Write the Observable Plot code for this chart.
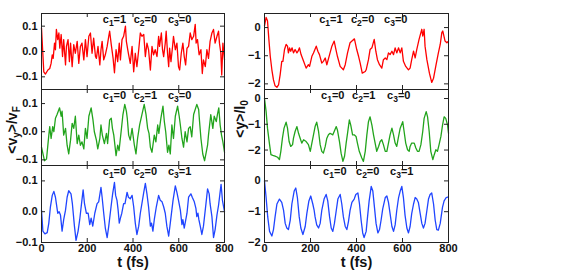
<!DOCTYPE html>
<html><head><meta charset="utf-8">
<script src="https://cdn.jsdelivr.net/npm/d3@7"></script>
<script src="https://cdn.jsdelivr.net/npm/@observablehq/plot@0.6"></script>
<style>
body{margin:0;background:#fff;}
#wrap{position:relative;width:572px;height:273px;overflow:hidden;font-family:"Liberation Sans",Arial,sans-serif;}
#wrap svg{position:absolute;}
</style></head><body><div id="wrap"></div>
<script>
// ---- data: left column <v_y>/v_F ----
const tRedL=[0,10,17,28,36,42,47,51,57,61,65,71,76,80,86,92,97,105,109,116,122,127,134,141,148,156,163,170,177,185,192,199,207,214,221,228,236,240,247,255,260,265,272,279,287,294,298,305,313,319,326,333,340,345,352,359,367,371,377,381,388,396,403,410,417,425,432,439,447,454,461,468,476,483,490,497,505,512,516,524,529,534,541,545,551,556,560,566,573,577,585,592,599,604,611,618,624,630,636,643,650,657,665,672,676,682,689,697,703,708,716,723,730,737,745,752,759,767,774,778,784,788,793,800];
const vRedL=[0.093,-0.080,-0.089,-0.073,-0.067,-0.047,-0.013,-0.027,0.033,0.007,0.087,0.047,0.073,0.013,0.067,-0.020,0.047,-0.053,0.020,0.047,-0.040,0.033,-0.060,0.027,-0.007,0.040,-0.047,0.020,0.033,-0.033,0.047,-0.020,0.060,0.073,-0.007,0.053,-0.020,-0.027,0.020,-0.053,0.007,0.040,-0.033,-0.013,0.020,0.060,0.080,0.027,-0.027,-0.084,0.007,-0.040,0.033,-0.033,0.047,0.060,0.100,0.040,0.007,-0.013,-0.047,0.020,-0.080,-0.007,-0.060,0.007,0.073,0.060,0.067,-0.020,0.033,0.007,-0.073,0.020,-0.013,0.007,-0.020,0.060,0.020,0.073,0.007,-0.020,0.033,0.080,-0.007,-0.060,0.013,-0.040,0.020,0.060,0.007,0.033,-0.060,-0.073,-0.007,0.033,-0.020,-0.053,0.013,0.020,0.073,0.047,0.060,0.107,0.033,0.047,-0.013,0.007,-0.087,-0.033,-0.060,0.007,-0.027,0.040,0.073,0.087,0.033,0.060,0.080,0.033,-0.007,-0.093,0.033,-0.033];

const tGreenL=[0,13,22,32,36,42,49,54,61,68,79,86,90,97,105,112,119,127,134,141,148,156,163,170,177,185,192,199,207,217,225,231,240,246,255,260,266,275,284,289,298,305,310,316,326,333,339,348,356,364,371,375,381,388,396,400,406,413,420,429,439,449,457,464,470,476,483,493,500,508,513,522,531,537,543,551,557,563,570,577,585,595,602,607,614,621,628,636,643,650,657,665,679,687,691,697,705,713,720,726,730,740,749,755,764,769,775,781,787,793,800];
const vGreenL=[-0.055,-0.103,-0.097,-0.012,0.018,-0.024,0.018,0.000,0.048,0.061,0.085,0.055,0.073,-0.012,0.012,-0.048,-0.079,-0.030,0.030,0.012,0.055,-0.042,-0.012,-0.048,-0.036,-0.061,0.012,-0.024,0.055,0.085,0.042,0.000,-0.030,-0.061,-0.024,0.024,-0.012,-0.042,-0.006,-0.042,0.042,0.048,0.012,-0.012,-0.085,-0.048,-0.067,0.000,0.061,0.097,0.073,0.048,-0.012,-0.030,0.012,-0.012,-0.048,-0.079,-0.024,0.024,0.061,0.097,0.061,0.012,-0.006,-0.055,-0.073,-0.012,-0.036,0.024,-0.006,0.048,0.091,0.036,0.000,-0.073,-0.048,-0.079,0.024,-0.024,0.055,0.091,0.055,0.024,-0.024,-0.055,0.000,-0.036,0.012,0.018,-0.018,0.061,0.097,0.079,0.036,-0.024,-0.079,-0.103,-0.073,-0.048,-0.012,0.061,0.012,0.055,0.036,0.061,0.085,0.024,-0.012,-0.036,-0.073];

const tBlueL=[0,6,15,25,32,39,47,54,61,65,71,77,83,90,97,105,112,119,129,135,144,151,160,167,175,182,188,196,204,211,217,224,233,243,250,260,265,272,279,287,294,304,311,319,324,330,335,340,345,351,359,365,374,380,388,396,403,410,417,425,432,447,454,461,468,476,481,487,493,502,512,519,527,534,541,548,556,563,575,585,592,599,607,614,618,624,636,643,653,659,668,675,679,684,688,694,701,708,719,726,733,737,745,752,759,767,774,780,785,791,800];
const vBlueL=[0.005,-0.063,-0.072,-0.068,-0.037,0.016,0.053,0.066,0.047,0.026,-0.005,0.000,-0.011,-0.063,-0.026,0.005,0.047,0.068,0.058,0.026,-0.047,-0.093,-0.063,-0.026,0.026,0.071,0.026,-0.005,-0.005,-0.042,-0.021,-0.047,-0.005,0.026,0.032,0.079,0.047,-0.005,-0.053,-0.084,-0.047,0.016,0.058,0.095,0.053,0.037,0.005,-0.037,-0.021,-0.005,0.026,0.026,0.063,0.047,0.042,0.053,0.016,-0.037,-0.074,-0.047,-0.005,0.063,0.092,0.058,0.016,-0.047,-0.037,-0.063,-0.026,0.016,0.053,0.037,0.032,0.016,-0.005,-0.047,-0.079,-0.037,0.037,0.084,0.063,0.037,0.005,-0.042,-0.026,-0.053,-0.005,0.047,0.058,0.047,0.032,0.011,-0.016,-0.005,-0.026,-0.047,-0.074,-0.047,0.026,0.074,0.058,0.026,-0.016,-0.084,-0.058,-0.011,0.021,0.058,0.089,0.037,0.000];

// ---- data: right column <y>/l_0 ----
const tRedR=[0,7,13,19,25,32,39,46,54,61,68,75,80,87,94,100,104,109,114,120,126,133,141,146,152,159,170,181,191,196,206,213,225,232,239,249,256,264,271,283,293,303,309,317,329,343,351,361,372,391,401,409,416,425,438,442,452,459,467,477,484,491,500,510,517,525,532,539,546,554,561,568,575,583,590,597,604,614,626,633,640,648,655,662,672,684,688,694,698,706,717,727,735,746,756,764,771,775,785,793,800];
const vRedR=[0.06,0.36,0.24,-0.42,-1.02,-1.50,-1.86,-2.07,-2.12,-2.04,-1.68,-1.20,-1.20,-0.78,-0.60,-0.66,-0.90,-0.72,-0.84,-0.72,-0.90,-0.78,-0.90,-0.84,-0.72,-0.96,-1.20,-1.44,-1.32,-1.38,-1.02,-0.90,-0.66,-0.84,-0.96,-1.26,-1.20,-1.08,-1.32,-0.96,-0.66,-0.48,-0.72,-1.02,-1.38,-1.50,-1.32,-0.90,-0.54,-0.40,-0.78,-1.02,-1.26,-1.62,-1.56,-1.50,-1.14,-0.78,-0.72,-0.42,-0.84,-1.14,-1.32,-1.44,-1.14,-1.08,-1.14,-0.90,-0.96,-0.84,-0.96,-0.72,-0.90,-0.72,-0.90,-0.72,-1.20,-1.38,-1.50,-1.44,-1.14,-0.84,-1.08,-0.78,-0.42,-0.06,-0.30,-0.06,-0.66,-1.14,-1.62,-1.95,-1.80,-1.32,-0.90,-0.60,-0.18,-0.12,-0.48,-0.54,-0.48];

const tGreenR=[0,7,13,22,28,36,46,57,65,71,78,85,94,100,107,114,122,126,133,141,148,155,162,170,181,191,199,206,213,220,227,235,242,249,256,264,271,278,285,297,303,312,317,326,333,341,348,355,361,369,375,383,390,398,404,412,423,430,438,445,452,459,467,474,481,488,496,503,510,517,525,532,539,546,554,561,568,575,583,590,601,607,614,622,629,633,640,651,658,665,672,680,688,694,703,709,716,723,732,738,745,752,759,767,774,781,788,796,800];
const vGreenR=[0.00,-0.51,-1.15,-1.79,-2.18,-2.21,-2.24,-2.28,-2.37,-2.05,-1.54,-1.15,-0.92,-1.15,-1.67,-1.86,-1.79,-1.54,-1.28,-1.09,-1.35,-1.54,-1.73,-1.60,-1.67,-1.79,-2.05,-1.73,-1.41,-1.09,-0.92,-1.28,-1.79,-2.05,-2.12,-1.86,-1.54,-1.41,-1.35,-1.41,-1.28,-1.09,-1.22,-1.67,-2.12,-2.44,-2.24,-1.73,-1.35,-0.83,-1.03,-1.41,-1.41,-1.47,-1.73,-2.05,-2.31,-2.44,-2.05,-1.41,-0.90,-0.71,-1.03,-1.41,-1.73,-2.05,-1.86,-1.67,-1.60,-1.79,-2.05,-2.05,-1.73,-1.41,-1.15,-1.41,-1.73,-1.86,-1.47,-1.15,-0.90,-1.28,-1.73,-1.99,-2.05,-1.86,-1.73,-1.73,-1.92,-2.05,-2.05,-1.79,-1.28,-0.77,-0.51,-0.71,-1.28,-2.05,-2.37,-2.18,-1.99,-2.05,-1.79,-1.47,-1.03,-0.71,-0.77,-1.03,-1.35];

const tBlueR=[0,7,14,22,32,39,46,54,65,75,83,90,97,104,112,119,129,136,143,151,158,167,177,184,193,201,210,216,220,227,235,242,249,259,268,275,283,290,297,304,312,319,329,336,343,351,358,365,372,380,390,397,406,413,420,427,433,442,448,455,464,471,478,485,493,500,507,514,525,532,539,546,554,561,568,575,583,590,597,604,611,619,626,633,640,648,655,662,669,677,684,691,698,706,713,720,727,735,742,749,756,764,774,781,790,800];
const vBlueR=[0.00,-0.54,-1.17,-1.64,-1.79,-1.58,-1.17,-0.75,-0.59,-0.70,-0.96,-1.38,-1.53,-1.58,-1.27,-0.75,-0.33,-0.23,-0.54,-1.17,-1.53,-1.74,-1.48,-1.06,-0.65,-0.49,-0.75,-0.96,-1.17,-1.43,-1.53,-1.38,-0.96,-0.59,-0.44,-0.65,-1.17,-1.53,-1.64,-1.38,-0.96,-0.59,-0.44,-0.75,-1.17,-1.48,-1.58,-1.32,-0.96,-0.70,-0.59,-0.44,-0.39,-0.75,-1.27,-1.69,-1.84,-1.64,-1.17,-0.65,-0.18,-0.33,-0.85,-1.38,-1.69,-1.58,-1.27,-0.91,-0.54,-0.49,-0.70,-1.06,-1.48,-1.64,-1.43,-0.96,-0.54,-0.33,-0.18,-0.54,-1.11,-1.53,-1.69,-1.48,-1.06,-0.75,-0.54,-0.59,-0.70,-1.06,-1.38,-1.53,-1.38,-0.96,-0.59,-0.44,-0.39,-0.75,-1.27,-1.58,-1.60,-1.38,-0.85,-0.65,-0.54,-0.52];

// ---- axes / labels ----
const xTicks=[0,200,400,600,800];
const yTicksL=[-0.1,0,0.1];
const yTicksR=[-2,-1,0];
const yDomainsL=[[-0.15,0.15],[-0.12,0.15],[-0.1,0.15]];
const yDomainsR=[[-2.2,0.5],[-2.6,0.35],[-2,0.5]];
const coefs=[["1","0","0"],["0","1","0"],["0","0","1"]];
const coefPosL=[[270,405,555],[270,405,555],[270,405,555]];
const coefPosR=[[240,378,522],[248,383,535],[257,400,548]];
const colors=["#ff0000","#22a41c","#2045ff"];
const xLabel="t (fs)";

const FONT='"Liberation Sans",Arial,sans-serif';
const wrap=document.getElementById("wrap");
const seriesL=[[tRedL,vRedL],[tGreenL,vGreenL],[tBlueL,vBlueL]];
const seriesR=[[tRedR,vRedR],[tGreenR,vGreenR],[tBlueR,vBlueR]];
const rowTop=[13,89,165];
const rowH=[76,76,77];

function panel(col,row){
  const [ts,vs]=(col===0?seriesL:seriesR)[row];
  const data=ts.map((t,i)=>({t,v:vs[i]}));
  const domain=(col===0?yDomainsL:yDomainsR)[row];
  const yTicks=col===0?yTicksL:yTicksR;
  const frameW=col===0?183:184;
  const ml=col===0?41:36;
  const mr=4, mt=2, mb=row===2?34:2;
  const h=rowH[row];
  const marks=[
    Plot.line(data,{x:"t",y:"v",stroke:colors[row],strokeWidth:1.3}),
    Plot.frame({stroke:"#222",strokeWidth:1}),
    Plot.tickX(xTicks,{x:d=>d,insetTop:h-4,stroke:"#222"}),
    Plot.tickX(xTicks,{x:d=>d,insetBottom:h-4,stroke:"#222"}),
    Plot.tickY(yTicks,{y:d=>d,insetRight:frameW-4,stroke:"#222"}),
    Plot.tickY(yTicks,{y:d=>d,insetLeft:frameW-4,stroke:"#222"}),
    Plot.axisY(yTicks,{tickSize:0,tickPadding:4,label:null,fontSize:11,fontWeight:"bold"})
  ];
  if(row===2){
    marks.push(Plot.axisX(xTicks,{tickSize:0,tickPadding:2,label:null,fontSize:11,fontWeight:"bold"}));
    marks.push(Plot.text([xLabel],{frameAnchor:"bottom",dy:24,fontSize:14.5,fontWeight:"bold",text:d=>d}));
  }
  const plot=Plot.plot({
    width:ml+frameW+mr,height:mt+h+mb,
    marginTop:mt,marginBottom:mb,marginLeft:ml,marginRight:mr,
    style:{background:"transparent",overflow:"visible",fontFamily:FONT,color:"#111"},
    x:{domain:[0,800],axis:row===2?undefined:null},
    y:{domain},
    marks
  });
  plot.style.left=(col===0?0:228)+"px";
  plot.style.top=(rowTop[row]-mt)+"px";
  wrap.appendChild(plot);
  const sx=plot.scale("x"), sy=plot.scale("y");
  const g=d3.select(plot).append("g").attr("font-family",FONT).attr("font-weight","bold").attr("font-size",11).attr("fill","#111").attr("text-anchor","start");
  const pos=(col===0?coefPosL:coefPosR)[row];
  coefs[row].forEach((c,i)=>{
    const tx=g.append("text").attr("x",sx.apply(pos[i])).attr("y",sy.apply(domain[1])+10);
    tx.append("tspan").text("c");
    tx.append("tspan").attr("dy",3).attr("font-size",8.5).text(String(i+1));
    tx.append("tspan").attr("dy",-3).text("="+c);
  });
}
for(let c=0;c<2;c++) for(let r=0;r<3;r++) panel(c,r);

// y-axis labels
const ov=d3.select(wrap).append("svg").attr("width",572).attr("height",273).style("left","0px").style("top","0px");
function ylab(x,y,parts){
  const t=ov.append("text").attr("transform",`translate(${x},${y}) rotate(-90)`).attr("text-anchor","middle")
    .attr("font-family",FONT).attr("font-weight","bold").attr("font-size",14).attr("fill","#111");
  parts.forEach(([s,sub])=>{
    const sp=t.append("tspan").text(s);
    if(sub){sp.attr("dy",3).attr("font-size",10);} 
    else if(t.node().childNodes.length>1){sp.attr("dy",-3);}
  });
}
ylab(17,130,[["<v",false],["y",true],[">/v",false],["F",true]]);
ylab(245,119,[["<y>/l",false],["0",true]]);
</script></body></html>
